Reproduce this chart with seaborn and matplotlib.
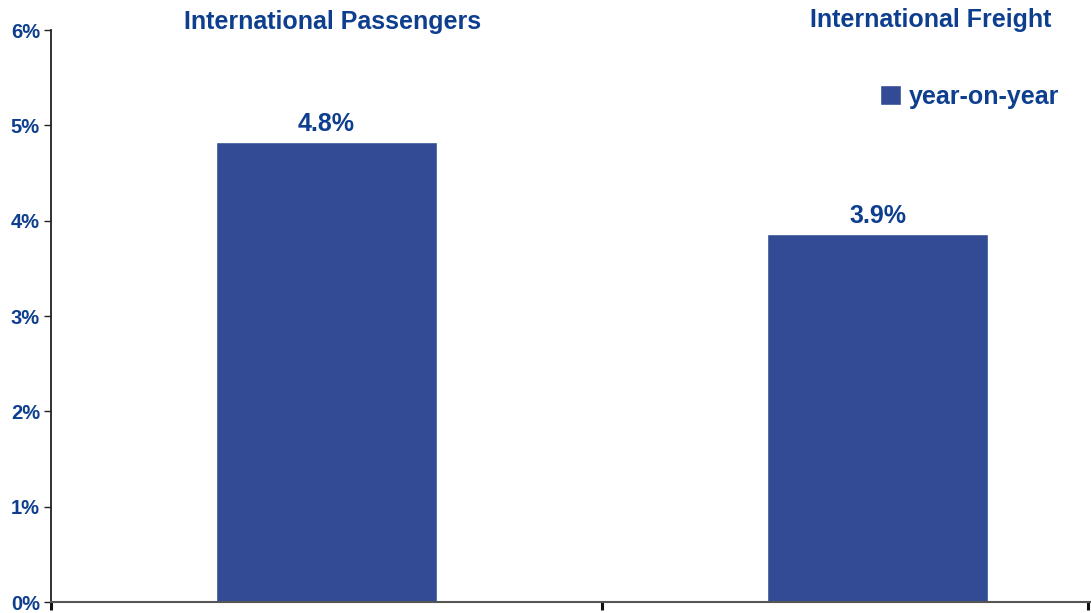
import numpy as np
import pandas as pd
import seaborn as sns
import matplotlib.pyplot as plt
from matplotlib.patches import Patch

# values
categories = ['International Passengers', 'International Freight']
growth = [4.83, 3.86]
bar_labels = ['4.8%', '3.9%']
yticks = [0, 1, 2, 3, 4, 5, 6]
ytick_labels = ['0%', '1%', '2%', '3%', '4%', '5%', '6%']

bar_col = '#334B94'
txt_col = '#0E3F8F'

sns.set_style('white')
plt.rcParams['font.family'] = ['Liberation Sans', 'DejaVu Sans']

df = pd.DataFrame({'cat': categories, 'val': growth})

fig = plt.figure(figsize=(10.91, 6.13), dpi=100)
ax = fig.add_axes([51/1091, 1 - 602/613, 1 - 51/1091, (602 - 30)/613])

sns.barplot(data=df, x='cat', y='val', color=bar_col, width=0.401, saturation=1, ax=ax)

ax.set_ylim(0, 6)
ax.set_xlim(-0.5, 1.3875)
ax.set_yticks(yticks)
ax.set_yticklabels(ytick_labels, fontsize=14.5, fontweight='bold', color=txt_col)
ax.set_xticks([-0.5, 0.5, 1.382])
ax.set_xticklabels([])
ax.set_xlabel('')
ax.set_ylabel('')
ax.tick_params(axis='y', direction='out', length=5, width=1, color='#222222', left=True, pad=3)
ax.tick_params(axis='x', direction='out', length=6, width=2.2, color='#111111', bottom=True)

for s in ['top', 'right']:
    ax.spines[s].set_visible(False)
ax.spines['left'].set_color('#222222')
ax.spines['left'].set_linewidth(1.3)
ax.spines['bottom'].set_color('#555555')
ax.spines['bottom'].set_linewidth(1.5)

ax.bar_label(ax.containers[0], labels=bar_labels, padding=4,
             fontsize=18, fontweight='bold', color=txt_col)

# category titles above the plot
fig.text(333/1091, 1 - 22/613, categories[0], ha='center', va='center',
         fontsize=18, fontweight='bold', color=txt_col)
fig.text(931/1091, 1 - 20/613, categories[1], ha='center', va='center',
         fontsize=18, fontweight='bold', color=txt_col)

leg = ax.legend(handles=[Patch(facecolor=bar_col, label='year-on-year')],
                loc='upper right', bbox_to_anchor=(1008/1040, 0.904), frameon=False,
                handlelength=0.85, handleheight=0.85, handletextpad=0.3,
                borderaxespad=0, borderpad=0,
                prop={'size': 18, 'weight': 'bold'})
for t in leg.get_texts():
    t.set_color(txt_col)

fig.savefig('out.png', dpi=100)
